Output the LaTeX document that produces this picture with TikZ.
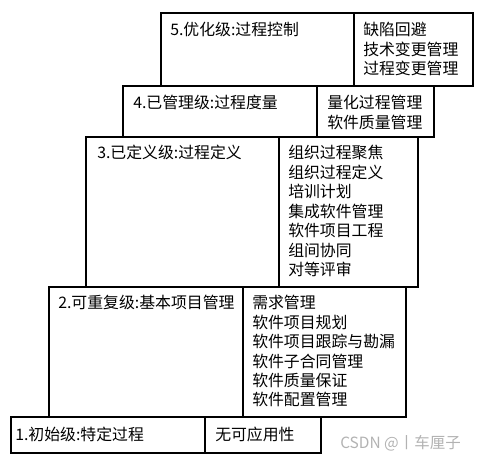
\documentclass[tikz,border=0pt]{standalone}
\usepackage{fontspec}
\newfontfamily\cjk{Noto Sans CJK SC}
\begin{document}
\begin{tikzpicture}[x=0.75pt,y=-0.75pt,
		levelbox/.style={line width=1pt},
		leveltext/.style={anchor=north west,inner sep=0pt,align=left,font=\cjk\fontsize{11.9}{14.6}\selectfont}]
			\useasboundingbox (0,0) rectangle (480,460);
			\draw[levelbox] (161,13) rectangle (354,86);
			\draw[levelbox] (354,13) rectangle (473,86);
			\draw[levelbox] (123,86) rectangle (317,137);
			\draw[levelbox] (317,86) rectangle (434,137);
			\draw[levelbox] (86,137) rectangle (279,287);
			\draw[levelbox] (279,137) rectangle (418,287);
			\draw[levelbox] (49,287) rectangle (243,417);
			\draw[levelbox] (243,287) rectangle (406,417);
			\draw[levelbox] (11,417) rectangle (205,453);
			\draw[levelbox] (205,417) rectangle (321,453);
			\node[leveltext] (opt) at (170,22) {5.优化级:过程控制};
			\node[leveltext] (optkpa) at (363,22) {缺陷回避\\技术变更管理\\过程变更管理};
			\node[leveltext] (man) at (133,95) {4.已管理级:过程度量};
			\node[leveltext] (mankpa) at (327,95) {量化过程管理\\软件质量管理};
			\node[leveltext] (def) at (97,145) {3.已定义级:过程定义};
			\node[leveltext] (defkpa) at (288,145) {组织过程聚焦\\组织过程定义\\培训计划\\集成软件管理\\软件项目工程\\组间协同\\对等评审};
			\node[leveltext] (rep) at (58,295) {2.可重复级:基本项目管理};
			\node[leveltext] (repkpa) at (252,295) {需求管理\\软件项目规划\\软件项目跟踪与勘漏\\软件子合同管理\\软件质量保证\\软件配置管理};
			\node[leveltext] (ini) at (15,427) {1.初始级:特定过程};
			\node[leveltext] (inikpa) at (215,427) {无可应用性};
			\node[anchor=west,inner sep=0pt,text=gray!60,font=\cjk\fontsize{11.6}{13}\selectfont] (mark) at (340,443) {CSDN @丨车厘子};
		\end{tikzpicture}
\end{document}
